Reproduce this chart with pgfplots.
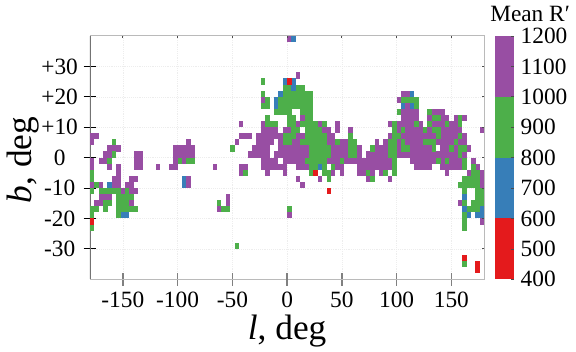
\documentclass[border=0pt]{standalone}
\usepackage{fontspec}
\setmainfont{Liberation Serif}
\usepackage{pgfplots}
\pgfplotsset{compat=1.18}
\definecolor{cP}{HTML}{984EA3}
\definecolor{cG}{HTML}{4DAF4A}
\definecolor{cB}{HTML}{377EB8}
\definecolor{cR}{HTML}{E41A1C}
\pgfdeclareplotmark{cell}{\pgfpathrectanglecorners{\pgfqpoint{-1.68pt}{-2.31pt}}{\pgfqpoint{1.68pt}{2.31pt}}\pgfusepathqfill}
\pgfplotsset{cells/.style={only marks,mark=cell,mark options={fill=#1,draw=none},draw=none}}
\begin{document}
\begin{tikzpicture}
\useasboundingbox (0,0) rectangle (432pt,263.25pt);
\begin{axis}[
  at={(67.5pt,53.8pt)},anchor=south west,scale only axis,
  width=295.7pt,height=182.5pt,
  xmin=-180,xmax=180,ymin=-40,ymax=40,
  axis line style={draw=black!27,line width=.7pt},
  xtick={-150,-100,-50,50,100,150},
  xticklabels={-150,-100,-50,50,100,150},
  extra x ticks={0},extra x tick labels={0},
  extra x tick style={major tick style={black,line width=.7pt}},
  ytick={-30,-20,-10,0,10,20,30},
  yticklabels={-30,-20,-10,0,+10,+20,+30},
  xtick pos=lower,ytick pos=left,
  tick align=center,major tick length=9.5pt,
  x tick style={black!50,line width=1pt},
  y tick style={black,line width=.7pt},
  grid=major,grid style={densely dotted,black!7,line width=.4pt},
  tick label style={font=\fontsize{17.5pt}{18pt}\selectfont,text=black},
  xticklabel style={inner sep=0pt,yshift=-4.6pt},
  yticklabel style={anchor=center,xshift=-18pt},
  xlabel={\fontsize{26.5pt}{27pt}\selectfont\textit{l}, deg},
  ylabel={\fontsize{26.5pt}{27pt}\selectfont\textit{b}, deg},
  xlabel style={inner sep=0pt,at={(axis description cs:0.5,0)},anchor=center,yshift=-38.5pt},
  ylabel style={inner sep=0pt,at={(axis description cs:0,0.49)},anchor=center,yshift=50.5pt},
  clip=true,
]
\addplot[cells=cP] coordinates {
(2,39)(10,27)(-22,19)(102,19)(106,21)(110,21)(110,17)
(106,15)(110,15)(114,15)(118,15)(134,15)(138,15)(142,15)
(14,13)(106,13)(110,13)(114,13)(118,13)(130,13)(142,13)(146,13)(154,13)(162,13)
(-42,11)(-22,11)(10,11)(30,11)(46,11)(94,11)(102,11)(106,11)(110,11)(114,11)(122,11)(134,11)(138,11)(142,11)(150,11)(154,11)
(-22,9)(-18,9)(-14,9)(-10,9)(-2,9)(2,9)(34,9)(38,9)(46,9)(58,9)(102,9)(110,9)(114,9)(118,9)(122,9)(130,9)(142,9)(146,9)(150,9)(154,9)(158,9)(178,9)
(-178,7)(-174,7)(-42,7)(-38,7)(-34,7)(-26,7)(-22,7)(-18,7)(-14,7)(-10,7)(-6,7)(10,7)(14,7)(38,7)(42,7)(94,7)(106,7)(110,7)(114,7)(118,7)(122,7)(126,7)(130,7)(134,7)(142,7)(146,7)(150,7)(154,7)(162,7)
(-178,5)(-90,5)(-46,5)(-26,5)(-22,5)(-18,5)(-14,5)(-6,5)(6,5)(10,5)(38,5)(42,5)(50,5)(54,5)(82,5)(90,5)(102,5)(110,5)(114,5)(118,5)(122,5)(138,5)(142,5)(146,5)(150,5)(158,5)(162,5)
(-162,3)(-158,3)(-154,3)(-102,3)(-98,3)(-94,3)(-90,3)(-86,3)(-30,3)(-26,3)(-22,3)(-18,3)(-6,3)(-2,3)(2,3)(6,3)(10,3)(14,3)(18,3)(42,3)(46,3)(50,3)(54,3)(66,3)(82,3)(86,3)(90,3)(102,3)(114,3)(118,3)(122,3)(126,3)(130,3)(142,3)(146,3)(154,3)(166,3)
(-166,1)(-162,1)(-138,1)(-134,1)(-102,1)(-98,1)(-94,1)(-90,1)(-86,1)(-34,1)(-30,1)(-26,1)(-22,1)(-18,1)(-10,1)(-6,1)(-2,1)(2,1)(6,1)(10,1)(14,1)(18,1)(42,1)(46,1)(50,1)(54,1)(66,1)(74,1)(78,1)(82,1)(86,1)(90,1)(102,1)(106,1)(110,1)(114,1)(118,1)(122,1)(126,1)(130,1)(134,1)(138,1)(142,1)(146,1)(150,1)(154,1)(162,1)
(-178,-1)(-170,-1)(-166,-1)(-138,-1)(-134,-1)(-102,-1)(-94,-1)(-22,-1)(-18,-1)(-14,-1)(-10,-1)(-2,-1)(2,-1)(6,-1)(10,-1)(14,-1)(38,-1)(42,-1)(46,-1)(54,-1)(58,-1)(62,-1)(66,-1)(70,-1)(74,-1)(78,-1)(82,-1)(86,-1)(90,-1)(94,-1)(114,-1)(118,-1)(122,-1)(126,-1)(130,-1)(134,-1)(142,-1)(150,-1)(154,-1)(158,-1)(170,-1)
(-178,-3)(-162,-3)(-154,-3)(-138,-3)(-134,-3)(-118,-3)(-106,-3)(-102,-3)(-66,-3)(-42,-3)(-38,-3)(-22,-3)(-18,-3)(-14,-3)(-10,-3)(-6,-3)(-2,-3)(10,-3)(14,-3)(18,-3)(46,-3)(50,-3)(66,-3)(70,-3)(74,-3)(78,-3)(82,-3)(86,-3)(90,-3)(94,-3)(118,-3)(122,-3)(126,-3)(130,-3)(142,-3)(146,-3)(150,-3)(154,-3)(158,-3)(174,-3)
(-154,-5)(-42,-5)(-18,-5)(-2,-5)(42,-5)(50,-5)(66,-5)(70,-5)(78,-5)(86,-5)(146,-5)(166,-5)(178,-5)
(-158,-7)(-154,-7)(-142,-7)(-138,-7)(-90,-7)(10,-7)(30,-7)(74,-7)(94,-7)(178,-7)
(-178,-9)(-170,-9)(-158,-9)(-154,-9)(-146,-9)(-142,-9)(-90,-9)(14,-9)(178,-9)
(-150,-11)(-142,-11)(-138,-11)
(-170,-13)(-166,-13)(-162,-13)(-54,-13)
(-174,-15)(-170,-15)(-142,-15)(-54,-15)(158,-15)
(-62,-17)(2,-19)(178,-21)
};
\addplot[cells=cG] coordinates {
(-22,25)(-2,23)(2,23)(10,23)(14,23)
(-22,21)(-2,21)(2,21)(6,21)(10,21)(14,21)(18,21)(22,21)
(-18,19)(-6,19)(-2,19)(2,19)(6,19)(10,19)(14,19)(18,19)(22,19)(106,19)(110,19)(114,19)(118,19)
(-22,17)(-18,17)(-6,17)(-2,17)(2,17)(6,17)(10,17)(14,17)(18,17)(22,17)(118,17)
(-10,15)(-6,15)(-2,15)(2,15)(14,15)(18,15)(22,15)(102,15)(130,15)
(-18,13)(2,13)(6,13)(18,13)(22,13)(134,13)(138,13)(158,13)
(-18,11)(-14,11)(-10,11)(2,11)(6,11)(14,11)(18,11)(22,11)(26,11)(34,11)(98,11)(118,11)(130,11)(146,11)(158,11)
(6,9)(10,9)(18,9)(22,9)(26,9)(30,9)(98,9)(106,9)(126,9)(134,9)(138,9)
(-2,7)(2,7)(6,7)(18,7)(22,7)(26,7)(30,7)(34,7)(58,7)(98,7)(102,7)(138,7)(158,7)
(-158,5)(-2,5)(2,5)(14,5)(18,5)(22,5)(26,5)(30,5)(34,5)(46,5)(58,5)(62,5)(94,5)(98,5)(106,5)(126,5)(130,5)(134,5)(154,5)
(-50,3)(22,3)(26,3)(30,3)(34,3)(38,3)(58,3)(62,3)(78,3)(94,3)(98,3)(106,3)(110,3)(134,3)(150,3)(158,3)(162,3)
(-158,1)(22,1)(26,1)(30,1)(34,1)(38,1)(58,1)(62,1)(94,1)(98,1)(158,1)
(-162,-1)(-98,-1)(-90,-1)(-86,-1)(18,-1)(22,-1)(26,-1)(30,-1)(34,-1)(50,-1)(98,-1)(138,-1)(146,-1)(162,-1)
(22,-3)(26,-3)(34,-3)(42,-3)(98,-3)(162,-3)(170,-3)
(-178,-5)(-38,-5)(22,-5)(34,-5)(38,-5)(74,-5)(90,-5)(98,-5)(170,-5)(174,-5)
(-178,-7)(38,-7)(78,-7)(162,-7)(166,-7)(170,-7)(174,-7)
(-174,-9)(158,-9)(162,-9)(166,-9)(170,-9)(174,-9)
(-178,-11)(-170,-11)(-166,-11)(-162,-11)(-158,-11)(-154,-11)(-146,-11)(162,-11)(174,-11)(178,-11)
(-154,-13)(-150,-13)(-146,-13)(-142,-13)(174,-13)(178,-13)
(-166,-15)(-162,-15)(-154,-15)(-150,-15)(-146,-15)(-62,-15)(162,-15)(170,-15)(174,-15)(178,-15)
(-178,-17)(-174,-17)(-166,-17)(-154,-17)(-150,-17)(-146,-17)(-142,-17)(-138,-17)(-58,-17)(-54,-17)(2,-17)(166,-17)(170,-17)(174,-17)
(-178,-19)(-154,-19)(162,-19)(162,-21)(-178,-23)(162,-23)(-46,-29)(162,-35)
};
\addplot[cells=cB] coordinates {
(6,39)(-2,25)(6,25)(6,23)(-6,21)(114,21)(-10,19)(-10,17)(106,17)(114,17)
(30,-3)(-94,-7)(-162,-9)(-94,-9)(162,-13)(162,-17)(178,-17)
(-150,-19)(-146,-19)(166,-19)(174,-19)(178,-19)
};
\addplot[cells=cR] coordinates {
(2,25)(26,-5)(38,-11)(-178,-21)(162,-33)(174,-35)(174,-37)
};
\draw[black!55,line width=1pt] (axis cs:-180,-40)--(axis cs:-180,40);
\end{axis}
\begin{axis}[
  at={(67.5pt,53.8pt)},anchor=south west,scale only axis,
  width=295.7pt,height=182.5pt,
  xmin=-180,xmax=180,ymin=-40,ymax=40,
  axis line style={draw=none},
  xtick={-150,-100,-50,0,50,100,150},ytick={-30,-20,-10,0,10,20,30},
  xticklabels={},yticklabels={},
  xtick pos=upper,ytick pos=right,tick align=inside,major tick length=1.8pt,
  tick style={black!70,line width=.6pt},
]
\end{axis}
\begin{axis}[
  at={(370.9pt,53.8pt)},anchor=south west,scale only axis,
  width=14.6pt,height=182.5pt,
  xmin=0,xmax=1,ymin=400,ymax=1200,
  axis line style={draw=none},
  xtick=\empty,
  ytick={400,500,600,700,800,900,1000,1100,1200},
  yticklabels={400,500,600,700,800,900,1000,1100,1200},
  ytick pos=right,tick align=inside,major tick length=2.5pt,
  tick style={black!70,line width=.5pt},
  yticklabel style={font=\fontsize{17.5pt}{18pt}\selectfont,anchor=west,xshift=1.5pt},
  axis on top,clip=false,
]
\addplot[fill=cR,draw=none] coordinates {(0,400)(1,400)(1,600)(0,600)};
\addplot[fill=cB,draw=none] coordinates {(0,600)(1,600)(1,800)(0,800)};
\addplot[fill=cG,draw=none] coordinates {(0,800)(1,800)(1,1000)(0,1000)};
\addplot[fill=cP,draw=none] coordinates {(0,1000)(1,1000)(1,1200)(0,1200)};
\end{axis}
\node[anchor=base west,inner sep=0pt,font=\fontsize{17.5pt}{18pt}\selectfont] at (367.5pt,247pt) {Mean R′};
\end{tikzpicture}
\end{document}
